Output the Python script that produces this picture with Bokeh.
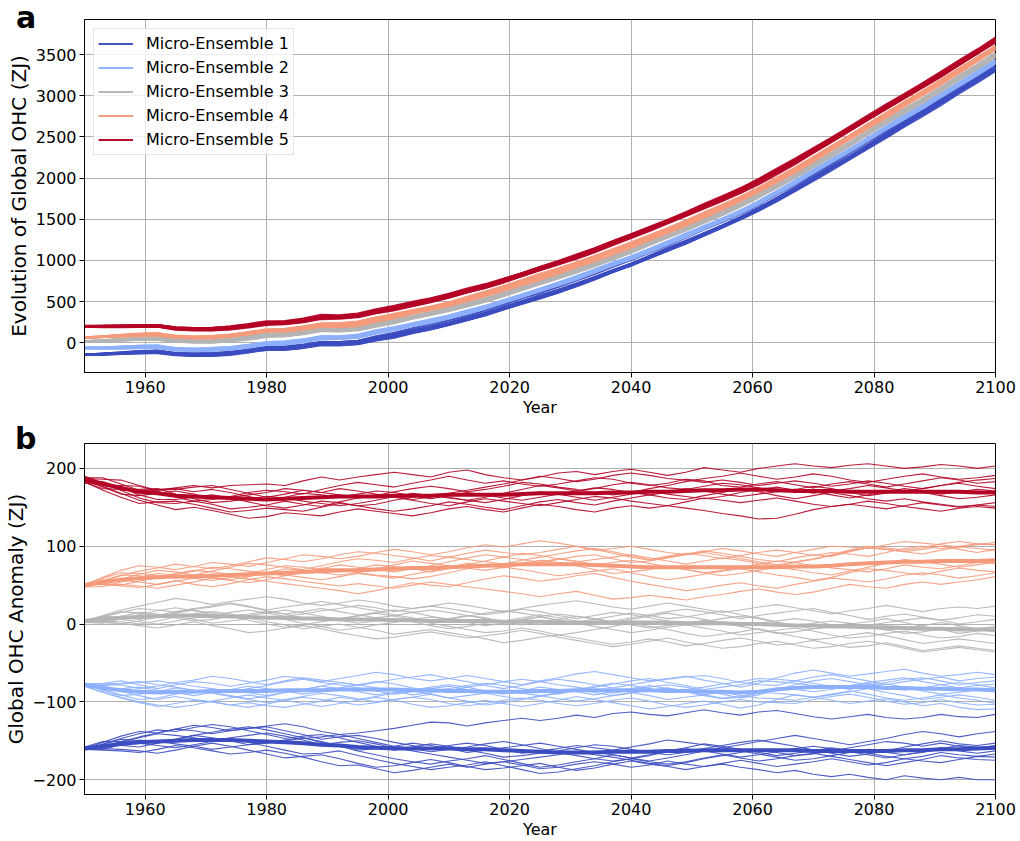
import numpy as np
from bokeh.plotting import figure
from bokeh.models import Range1d, Legend, LegendItem, CustomJSTickFormatter, FixedTicker, Div
from bokeh.layouts import column
from bokeh.embed import file_html
from bokeh.resources import INLINE

# ---------------- data (3-year steps) ----------------
years = list(range(1950, 2101, 3))

# common forced evolution of OHC (ZJ) (centre of the bundle)
forced_trend = [15, 20, 28, 38, 42, 12, 2, 5, 22, 50,
                80, 85, 110, 150, 150, 165, 215, 255, 305, 350,
                400, 460, 520, 590, 660, 730, 800, 875, 955, 1040,
                1120, 1210, 1300, 1390, 1485, 1580, 1680, 1790, 1910, 2030,
                2160, 2290, 2420, 2555, 2690, 2820, 2950, 3085, 3225, 3360,
                3500]

# thick lines of panel b: micro-ensemble mean anomalies (ZJ)
ens1_mean = [-160, -157, -154, -152, -151, -150, -149, -149, -149, -150,
             -151, -152, -153, -155, -156, -158, -159, -160, -160, -160,
             -160, -161, -161, -162, -163, -164, -165, -165, -165, -164,
             -164, -164, -163, -163, -162, -162, -162, -162, -162, -162,
             -163, -163, -163, -163, -163, -162, -162, -161, -161, -160,
             -159]
ens2_mean = [-78, -82, -85, -87, -88, -87, -87, -86, -86, -86,
             -86, -85, -85, -85, -84, -84, -84, -84, -85, -85,
             -86, -86, -87, -87, -87, -86, -86, -85, -85, -85,
             -85, -85, -86, -86, -87, -87, -88, -87, -84, -82,
             -81, -81, -81, -81, -82, -82, -83, -83, -84, -84,
             -85]
ens3_mean = [4, 6, 8, 9, 10, 11, 11, 10, 10, 9,
             8, 8, 7, 7, 6, 6, 6, 5, 5, 4,
             4, 4, 4, 3, 3, 3, 2, 2, 2, 2,
             2, 2, 2, 1, 1, 1, 0, 0, -1, -2,
             -2, -3, -3, -4, -4, -5, -6, -6, -7, -7,
             -7]
ens4_mean = [50, 54, 57, 59, 60, 61, 61, 62, 63, 64,
             65, 66, 67, 68, 69, 69, 70, 71, 72, 72,
             73, 74, 75, 76, 77, 77, 77, 77, 76, 75,
             74, 73, 73, 73, 73, 73, 73, 73, 73, 74,
             74, 75, 77, 78, 79, 80, 80, 81, 81, 81,
             82]
ens5_mean = [185, 180, 175, 170, 168, 165, 164, 163, 162, 161,
             160, 161, 162, 163, 164, 164, 164, 165, 165, 165,
             166, 166, 166, 166, 167, 168, 168, 168, 168, 169,
             169, 170, 170, 171, 172, 172, 173, 173, 172, 171,
             171, 171, 170, 170, 170, 170, 170, 170, 170, 169,
             169]

# thin lines of panel b: each member's departure from its micro-ensemble mean (ZJ)
ens1_members_dev = [
    [0, 5, 10, 14, 11, 15, 19, 16, 12, 16, 20, 24, 21, 17, 14, 18, 22, 26, 30, 34, 33, 30, 34, 38, 42, 40, 44, 48, 45, 49, 51, 48, 45, 49, 52, 48, 45, 49, 51, 47, 44, 41, 44, 47, 43, 40, 42, 45, 42, 40, 43],
    [-1, -5, -9, -13, -10, -6, -10, -14, -18, -15, -11, -14, -18, -22, -26, -23, -27, -31, -28, -24, -20, -23, -19, -15, -18, -22, -19, -15, -12, -16, -20, -17, -13, -17, -21, -18, -22, -25, -29, -26, -30, -33, -30, -34, -37, -33, -36, -39, -36, -40, -41],
    [2, 6, 3, 7, 11, 15, 12, 8, 12, 16, 19, 15, 11, 7, 11, 15, 12, 8, 4, 0, 4, 8, 5, 1, -3, 1, 5, 9, 6, 2, 6, 10, 14, 11, 7, 3, 7, 11, 15, 19, 16, 12, 8, 12, 16, 20, 24, 20, 16, 19, 21],
    [-2, 2, -2, -6, -2, 2, 6, 10, 14, 18, 15, 11, 7, 3, -1, -5, -9, -13, -17, -20, -16, -12, -8, -12, -16, -20, -16, -12, -8, -4, -8, -12, -9, -5, -1, 3, -1, -5, -9, -13, -10, -6, -2, 2, -2, -6, -3, 1, 5, 2, -1],
    [1, -2, 2, 6, 10, 7, 3, -1, 3, 7, 11, 8, 4, 0, 4, 8, 5, 1, -3, -7, -11, -14, -18, -15, -11, -7, -3, 1, -3, -7, -11, -15, -19, -15, -11, -7, -3, 1, -3, -7, -4, 0, 4, 8, 12, 9, 5, 8, 4, 1, 3],
    [0, -4, -1, 3, 0, -4, -8, -12, -9, -5, -1, 3, 7, 4, 0, -4, -1, 3, 7, 4, 0, -4, -1, 3, 7, 11, 8, 4, 0, -4, -8, -4, 0, 4, 8, 5, 1, -3, -7, -4, 0, 4, 1, -3, -7, -11, -8, -4, -7, -10, -8],
    [-1, 3, 7, 11, 15, 12, 16, 20, 17, 13, 9, 5, 9, 13, 10, 6, 2, -2, 2, 6, 3, -1, -5, -9, -6, -2, 2, 6, 10, 7, 3, -1, -5, -2, 2, 6, 10, 13, 9, 5, 1, -3, -7, -4, 0, 4, 8, 11, 7, 4, 6],
    [1, -3, -7, -11, -15, -12, -8, -4, -8, -12, -16, -20, -17, -13, -17, -21, -25, -22, -18, -14, -18, -22, -26, -23, -19, -15, -19, -23, -20, -16, -12, -16, -20, -24, -21, -17, -13, -17, -21, -18, -14, -10, -14, -18, -15, -11, -14, -17, -13, -10, -12],
    [2, -1, 3, -1, -5, -9, -6, -2, 2, -2, -6, -10, -14, -11, -7, -11, -15, -19, -23, -27, -24, -20, -16, -20, -24, -28, -25, -21, -17, -13, -9, -13, -17, -14, -10, -6, -10, -14, -11, -7, -3, -7, -11, -15, -19, -16, -12, -8, -11, -14, -16],
    [-1, 2, 6, 2, -2, 2, 6, 3, -1, -5, -2, 2, 6, 10, 14, 11, 7, 3, 0, -4, -1, 3, 7, 11, 8, 4, 0, -4, -8, -12, -9, -5, -1, 3, -1, -5, -9, -6, -2, 2, 6, 3, -1, -5, -9, -6, -2, 2, -2, -6, -4],
]
ens2_members_dev = [
    [0, 6, 12, 9, 5, 9, 13, 10, 6, 10, 14, 18, 15, 11, 14, 18, 22, 19, 15, 12, 16, 20, 17, 13, 9, 13, 17, 21, 24, 20, 16, 12, 16, 19, 15, 11, 7, 11, 15, 19, 22, 18, 14, 17, 21, 24, 20, 16, 19, 22, 20],
    [-2, -6, -10, -14, -18, -15, -11, -14, -18, -21, -17, -13, -9, -12, -16, -20, -17, -13, -9, -12, -16, -19, -15, -11, -8, -12, -16, -20, -17, -13, -10, -14, -18, -21, -17, -13, -9, -13, -17, -20, -16, -12, -9, -13, -17, -21, -18, -14, -17, -20, -18],
    [2, 5, 9, 13, 10, 6, 2, -2, 2, 6, 3, -1, -5, -2, 2, 6, 10, 7, 3, -1, 3, 7, 11, 8, 4, 0, -4, 0, 4, 8, 12, 15, 11, 7, 3, 6, 10, 14, 10, 6, 2, -2, 2, 6, 10, 13, 9, 5, 2, 5, 8],
    [-1, 3, -1, -5, -9, -6, -10, -14, -18, -15, -19, -22, -18, -14, -10, -13, -9, -5, -1, -5, -9, -6, -2, 2, -2, -6, -3, 1, -3, -7, -4, 0, 4, 0, -4, -8, -5, -1, -5, -9, -13, -10, -6, -2, -6, -10, -14, -11, -7, -10, -13],
    [1, -3, -7, -3, 1, 5, 2, -2, -6, -10, -7, -3, 1, 5, 9, 6, 2, -2, -6, -3, 1, 5, 9, 13, 16, 12, 8, 4, 0, -4, 0, 4, 8, 5, 1, -3, -7, -4, 0, 4, 8, 11, 7, 3, 7, 11, 14, 10, 6, 9, 12],
    [0, 4, 8, 12, 15, 11, 7, 3, -1, 3, 7, 11, 14, 10, 6, 2, -2, -6, -2, 2, 6, 2, -2, -6, -10, -7, -3, 1, 5, 9, 6, 2, -2, 2, 6, 10, 14, 17, 13, 9, 5, 1, -3, 1, 5, 1, -3, -7, -4, 0, 3],
    [-2, -5, -9, -13, -16, -20, -17, -13, -9, -5, -9, -13, -17, -21, -18, -14, -10, -14, -18, -22, -19, -15, -11, -15, -19, -16, -12, -8, -12, -16, -20, -24, -20, -16, -12, -16, -20, -17, -13, -9, -13, -17, -21, -18, -14, -18, -22, -19, -23, -26, -24],
    [1, -2, 2, 6, 3, -1, -5, -2, 2, -2, -6, -3, 1, 5, 1, -3, -7, -4, 0, 4, 8, 5, 1, -3, 1, 5, 2, -2, -6, -2, 2, 6, 3, -1, -5, -9, -6, -2, 2, -2, -6, -3, 1, 5, 1, -3, 1, 5, 9, 6, 3],
    [0, 3, 7, 4, 8, 12, 15, 19, 16, 12, 8, 12, 16, 13, 9, 5, 9, 13, 17, 20, 16, 12, 8, 4, 8, 12, 15, 11, 7, 3, 7, 11, 15, 18, 21, 17, 13, 9, 5, 9, 13, 16, 12, 8, 4, 8, 12, 15, 11, 14, 17],
    [1, -2, -6, -10, -7, -3, 1, -3, -7, -11, -15, -12, -8, -4, -8, -12, -16, -13, -9, -5, -9, -13, -17, -14, -10, -6, -10, -14, -11, -7, -3, -7, -11, -8, -4, 0, -4, -8, -12, -16, -13, -9, -5, -9, -13, -16, -12, -8, -11, -14, -17],
]
ens3_members_dev = [
    [0, 5, 10, 14, 18, 22, 19, 15, 19, 23, 27, 24, 20, 17, 21, 25, 22, 18, 15, 19, 23, 20, 16, 13, 17, 21, 25, 28, 24, 20, 17, 21, 25, 22, 18, 14, 18, 22, 26, 23, 19, 16, 20, 24, 28, 25, 22, 26, 29, 27, 30],
    [2, -2, -5, -9, -6, -2, 2, 6, 3, -1, -5, -9, -13, -10, -6, -10, -14, -18, -15, -11, -15, -19, -23, -27, -24, -20, -16, -20, -24, -28, -25, -21, -25, -29, -26, -22, -18, -22, -26, -23, -19, -23, -27, -24, -20, -24, -28, -25, -21, -24, -27],
    [-1, 3, 7, 11, 8, 4, 8, 12, 16, 13, 9, 5, 9, 13, 10, 6, 2, 6, 10, 14, 11, 7, 3, -1, 3, 7, 11, 8, 4, 0, 4, 8, 12, 9, 5, 1, -3, 1, 5, 9, 6, 2, -2, 2, 6, 10, 14, 11, 7, 10, 13],
    [1, -3, -7, -11, -15, -12, -8, -12, -16, -20, -17, -13, -9, -13, -17, -21, -25, -22, -18, -14, -18, -22, -19, -15, -11, -15, -19, -23, -27, -31, -28, -24, -20, -24, -28, -32, -29, -25, -21, -25, -29, -26, -22, -18, -22, -26, -30, -27, -23, -26, -29],
    [0, 4, 1, -3, 1, 5, 9, 13, 17, 14, 10, 14, 18, 22, 19, 15, 11, 7, 3, -1, 3, 7, 4, 0, -4, 0, 4, 8, 5, 1, -3, -7, -4, 0, 4, 1, -3, -7, -11, -8, -4, 0, 4, 1, -3, -7, -4, 0, 3, 0, -3],
    [-2, -5, -1, 3, 7, 10, 6, 2, -2, 2, 6, 10, 7, 3, -1, -5, -2, 2, -2, -6, -10, -7, -3, 1, 5, 9, 6, 2, -2, 2, 6, 10, 14, 18, 15, 11, 7, 11, 15, 19, 22, 18, 14, 10, 14, 18, 15, 11, 15, 19, 17],
    [1, 4, 8, 5, 1, -3, -7, -4, 0, -4, -8, -12, -8, -4, 0, 4, 8, 5, 1, -3, -7, -11, -15, -12, -8, -12, -16, -13, -9, -5, -1, -5, -9, -13, -17, -14, -10, -6, -10, -14, -18, -15, -11, -7, -11, -15, -19, -16, -12, -15, -18],
    [-1, 2, -2, -6, -10, -7, -3, 1, 5, 9, 6, 2, 6, 10, 14, 18, 15, 11, 15, 19, 16, 12, 8, 12, 16, 13, 9, 5, 9, 13, 10, 6, 2, -2, 2, 6, 10, 7, 3, -1, 3, 7, 4, 0, -4, 0, 4, 8, 5, 1, 4],
    [1, -2, 2, 6, 3, -1, -5, -9, -6, -2, 2, -2, -6, -10, -14, -11, -7, -3, 1, 5, 2, -2, -6, -2, 2, 6, 3, -1, -5, -9, -13, -10, -6, -2, -6, -10, -14, -11, -7, -3, -7, -11, -15, -12, -8, -4, -8, -12, -9, -5, -8],
    [-1, -4, -8, -5, -1, 3, 7, 4, 0, 4, 8, 5, 1, -3, 1, 5, 9, 13, 10, 6, 2, 6, 10, 14, 11, 7, 3, 0, 4, 8, 12, 9, 5, 8, 12, 16, 12, 8, 4, 0, -4, -1, 3, 7, 11, 7, 3, -1, -5, -2, 1],
]
ens4_members_dev = [
    [0, 6, 12, 16, 13, 9, 13, 17, 14, 10, 14, 18, 22, 19, 15, 18, 22, 25, 21, 17, 20, 24, 27, 23, 26, 30, 27, 23, 19, 22, 26, 23, 19, 16, 20, 24, 21, 17, 14, 18, 22, 25, 22, 19, 23, 26, 24, 21, 18, 21, 23],
    [-2, -6, -3, 1, 5, 2, -2, -6, -3, 1, 5, 9, 6, 2, -2, 2, 6, 3, -1, -5, -2, 2, 6, 10, 14, 11, 7, 3, 7, 11, 15, 12, 8, 4, 8, 12, 9, 5, 1, 5, 9, 13, 17, 20, 17, 13, 16, 19, 15, 11, 14],
    [2, -3, -8, -12, -9, -5, -10, -14, -11, -7, -4, -8, -12, -16, -20, -17, -21, -25, -22, -18, -22, -26, -30, -34, -38, -42, -38, -35, -39, -43, -40, -36, -39, -42, -38, -35, -31, -28, -32, -36, -33, -29, -26, -30, -33, -29, -26, -30, -27, -24, -21],
    [-1, 3, -1, -5, -9, -6, -2, 2, -2, -6, -10, -14, -18, -22, -26, -30, -27, -23, -19, -22, -25, -21, -17, -14, -18, -22, -19, -15, -11, -15, -19, -22, -26, -30, -27, -23, -20, -24, -27, -23, -19, -16, -20, -24, -21, -17, -14, -18, -22, -19, -16],
    [1, 5, 9, 6, 2, -2, 2, 6, 10, 14, 11, 7, 3, 7, 11, 15, 12, 8, 12, 16, 13, 9, 5, 1, 5, 9, 13, 17, 21, 18, 14, 10, 14, 18, 15, 11, 15, 19, 22, 18, 14, 17, 13, 9, 13, 17, 20, 16, 19, 22, 20],
    [0, -3, -7, -4, 0, 4, 8, 5, 1, -3, 1, 5, 2, -2, -6, -3, 1, 5, 9, 6, 2, -2, -6, -3, 1, 5, 2, -2, -6, -10, -7, -3, 1, -3, -7, -11, -8, -4, 0, -4, -8, -12, -9, -5, -1, 3, 0, -4, -8, -5, -2],
    [-3, 1, 5, 9, 12, 16, 13, 9, 12, 16, 20, 17, 13, 16, 20, 24, 21, 17, 13, 9, 13, 17, 20, 16, 12, 15, 19, 23, 20, 16, 12, 9, 13, 17, 21, 18, 14, 10, 7, 11, 15, 12, 16, 20, 17, 13, 10, 14, 18, 16, 13],
    [2, -2, -6, -10, -14, -11, -7, -3, -7, -11, -8, -4, 0, 4, 1, -3, -7, -10, -14, -11, -7, -3, 1, -3, -7, -11, -15, -12, -8, -4, -8, -12, -16, -13, -9, -5, -2, -6, -10, -14, -18, -15, -11, -7, -10, -14, -17, -13, -9, -12, -15],
    [-1, 2, 6, 3, -1, 3, 7, 11, 8, 4, 0, -4, -1, 3, 7, 4, 0, -4, -1, 3, 7, 11, 14, 10, 6, 2, 6, 10, 13, 9, 5, 8, 12, 16, 19, 15, 11, 7, 3, 6, 10, 14, 18, 22, 19, 15, 18, 22, 25, 22, 20],
    [1, -2, 1, 5, 9, 6, 2, -2, -6, -3, 1, -3, -7, -11, -8, -4, -8, -12, -8, -4, 0, 4, 0, -4, -1, 3, 7, 4, 0, 4, 8, 5, 1, -3, -7, -4, 0, 4, 8, 5, 1, -3, -7, -11, -8, -4, -7, -10, -6, -2, -4],
]
ens5_members_dev = [
    [3, 8, 5, 2, 4, 10, 14, 12, 16, 18, 20, 17, 22, 26, 21, 25, 28, 30, 27, 24, 29, 32, 26, 22, 18, 21, 26, 28, 24, 27, 30, 25, 21, 24, 29, 26, 22, 27, 31, 35, 32, 30, 34, 36, 33, 30, 32, 35, 33, 31, 34],
    [0, -4, -8, -5, 0, 6, 3, -2, 2, 8, 12, 9, 5, 10, 14, 18, 15, 11, 16, 20, 24, 19, 15, 18, 13, 9, 12, 16, 20, 17, 12, 8, 11, 15, 12, 6, 3, 7, 11, 8, 4, 9, 13, 10, 6, 10, 14, 18, 15, 12, 14],
    [5, 2, -3, -8, -12, -10, -6, -9, -14, -11, -7, -3, -8, -12, -7, -2, 2, -2, -6, -10, -14, -9, -5, -8, -12, -16, -12, -8, -4, -7, -11, -15, -18, -22, -26, -30, -34, -38, -36, -30, -24, -20, -16, -19, -22, -18, -14, -17, -20, -16, -13],
    [-3, -6, -2, 3, 6, 2, -3, -7, -4, 0, 4, 1, -4, -8, -12, -9, -5, -1, 3, 0, -4, -7, -3, 2, 6, 10, 7, 3, 6, 10, 13, 9, 5, 2, 5, 9, 6, 2, -2, 2, 6, 3, -1, -5, -2, 2, -1, -5, -9, -6, -3],
    [2, 6, 10, 8, 4, 8, 12, 15, 11, 7, 3, 6, 10, 6, 2, -2, 1, 5, 9, 12, 8, 4, 7, 11, 15, 12, 8, 5, 1, -3, 0, 4, 8, 12, 15, 18, 21, 17, 14, 18, 22, 19, 15, 12, 16, 20, 23, 19, 16, 19, 22],
    [-2, -8, -12, -15, -11, -7, -10, -14, -18, -15, -11, -14, -17, -13, -9, -12, -16, -20, -17, -13, -9, -12, -16, -19, -15, -11, -8, -12, -15, -11, -7, -4, -8, -11, -7, -3, 1, -3, -7, -10, -6, -2, -5, -9, -12, -9, -13, -16, -19, -16, -18],
    [4, 1, -3, 1, 5, 9, 6, 10, 7, 3, -1, 2, 6, 3, -1, 3, 7, 4, 0, -4, -1, 3, 0, -4, -8, -5, -1, 3, 7, 4, 0, -4, -1, 3, -1, -5, -9, -6, -2, 2, -1, -5, -8, -4, 0, 4, 1, -3, 0, 4, 2],
    [-4, -1, 3, 7, 3, -2, -6, -3, 1, 5, 9, 13, 10, 6, 10, 7, 3, -1, -5, -2, 2, 6, 10, 14, 18, 22, 19, 15, 18, 22, 25, 21, 17, 14, 10, 13, 9, 5, 9, 13, 10, 6, 10, 14, 11, 7, 4, 8, 12, 16, 18],
    [1, -3, -7, -11, -15, -18, -14, -17, -21, -25, -22, -18, -21, -24, -20, -16, -19, -23, -26, -22, -18, -15, -19, -22, -18, -14, -17, -21, -24, -20, -17, -21, -18, -14, -10, -13, -17, -14, -10, -13, -17, -20, -16, -12, -15, -19, -22, -25, -21, -18, -20],
    [-1, 3, 0, -4, -8, -5, -1, 3, 0, -4, -8, -12, -9, -5, -8, -12, -10, -6, -2, 1, -3, -7, -10, -6, -2, 2, -1, -5, -9, -6, -2, 1, -3, -7, -11, -8, -4, 0, 4, 1, -3, 0, 4, 8, 5, 1, 4, 8, 11, 8, 5],
]

labels = ["Micro-Ensemble 1", "Micro-Ensemble 2", "Micro-Ensemble 3",
          "Micro-Ensemble 4", "Micro-Ensemble 5"]
colors = ["#3b4cc0", "#8db0fe", "#b4b4b4", "#f49a7b", "#b40426"]
x_ticks = [1960, 1980, 2000, 2020, 2040, 2060, 2080, 2100]
ya_ticks = [0, 500, 1000, 1500, 2000, 2500, 3000, 3500]
yb_ticks = [-200, -100, 0, 100, 200]

means = [ens1_mean, ens2_mean, ens3_mean, ens4_mean, ens5_mean]
devs = [ens1_members_dev, ens2_members_dev, ens3_members_dev,
        ens4_members_dev, ens5_members_dev]

FONT = "DejaVu Sans"
yrs = np.array(years)
trend = np.array(forced_trend, dtype=float)


def style(p, ylabel, ylabel_size, yticks):
    p.background_fill_color = "white"
    p.border_fill_color = "white"
    p.outline_line_color = "black"
    p.outline_line_width = 1
    p.grid.grid_line_color = "#b0b0b0"
    p.grid.grid_line_width = 1
    p.xaxis.ticker = FixedTicker(ticks=x_ticks)
    p.yaxis.ticker = FixedTicker(ticks=yticks)
    p.xaxis.axis_label = "Year"
    p.yaxis.axis_label = ylabel
    p.yaxis.axis_label_text_font_size = ylabel_size
    p.xaxis.axis_label_text_font_size = "16px"
    for ax in p.axis:
        ax.axis_line_color = "black"
        ax.major_tick_line_color = "black"
        ax.major_tick_out = 5
        ax.major_tick_in = 0
        ax.minor_tick_out = 0
        ax.minor_tick_in = 0
        ax.major_label_text_font = FONT
        ax.major_label_text_font_size = "16px"
        ax.major_label_text_color = "black"
        ax.major_label_standoff = 3
        ax.axis_label_text_font = FONT
        ax.axis_label_text_font_style = "normal"
        ax.axis_label_text_color = "black"
        ax.axis_label_standoff = 2
    p.yaxis.formatter = CustomJSTickFormatter(
        code="return tick < 0 ? '\u2212' + Math.abs(tick) : String(tick);")


# ---------------- panel a ----------------
pa = figure(width=1020, height=420, output_backend="svg", toolbar_location=None,
            x_range=Range1d(1950, 2100), y_range=Range1d(-360, 3925),
            min_border_left=84, min_border_right=25, min_border_top=19,
            min_border_bottom=48)
style(pa, "Evolution of Global OHC (ZJ)", "20px", ya_ticks)

legend_items = []
for k in range(5):
    mean = np.array(means[k], dtype=float)
    first = None
    for d in devs[k]:
        y = trend + mean + np.array(d, dtype=float)
        r = pa.line(yrs, y, line_color=colors[k], line_width=2.2, line_alpha=0.95)
        if first is None:
            first = r
    legend_items.append(LegendItem(label=labels[k], renderers=[first]))

legend = Legend(items=legend_items, location="top_left", margin=9, padding=4,
                spacing=3, glyph_width=35, glyph_height=21, label_height=21,
                label_standoff=13, label_text_font=FONT, label_text_font_size="16px",
                label_text_color="black", border_line_color="#cccccc",
                background_fill_alpha=0.8)
pa.add_layout(legend)

# ---------------- panel b ----------------
pb = figure(width=1020, height=421, output_backend="svg", toolbar_location=None,
            x_range=Range1d(1950, 2100), y_range=Range1d(-219, 232),
            min_border_left=84, min_border_right=25, min_border_top=23,
            min_border_bottom=47)
style(pb, "Global OHC Anomaly (ZJ)", "20px", yb_ticks)

for k in range(5):
    mean = np.array(means[k], dtype=float)
    for d in devs[k]:
        pb.line(yrs, mean + np.array(d, dtype=float), line_color=colors[k],
                line_width=1.1, line_alpha=0.9)
    pb.line(yrs, mean, line_color=colors[k], line_width=4)

# panel letters as absolutely positioned text on top of the figures
letter_css = {"position": "absolute", "font-family": FONT, "font-size": "30px",
              "font-weight": "bold", "line-height": "normal", "color": "black",
              "z-index": "10", "margin": "0", "padding": "0"}
div_a = Div(text="a", width=30, height=36,
            styles=dict(letter_css, left="16px", top="0px"))
div_b = Div(text="b", width=30, height=36,
            styles=dict(letter_css, left="15px", top="421px"))

layout = column(pa, pb, div_a, div_b, styles={"position": "relative"})
open("out.html", "w").write(file_html(layout, INLINE))
